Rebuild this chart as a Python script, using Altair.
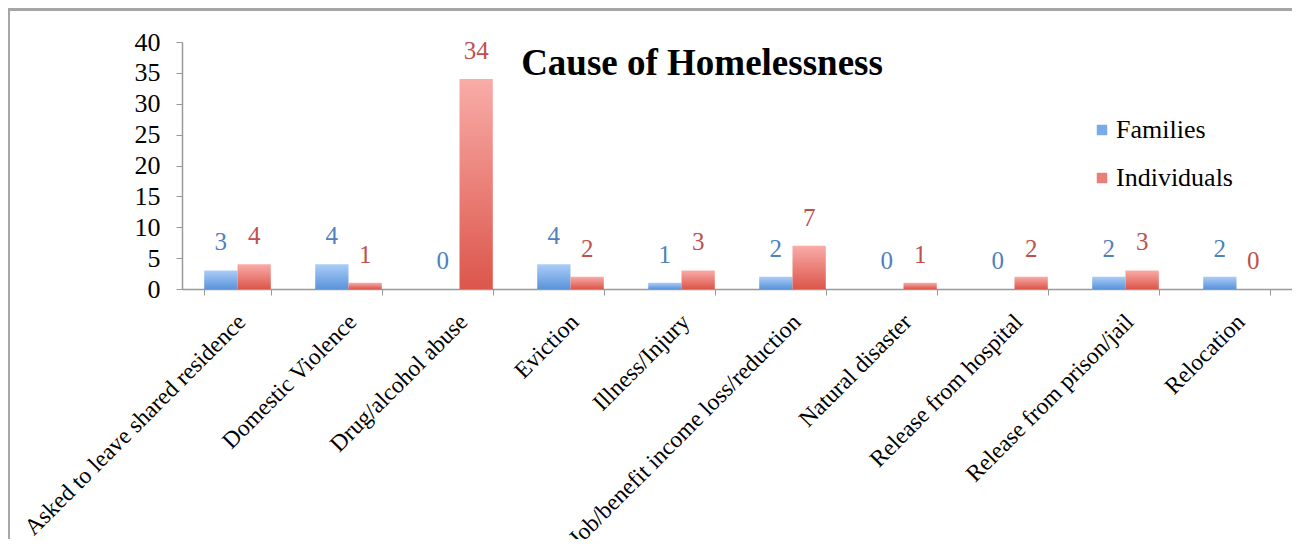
import altair as alt
import pandas as pd

categories = [
    "Asked to leave shared residence",
    "Domestic Violence",
    "Drug/alcohol abuse",
    "Eviction",
    "Illness/Injury",
    "Job/benefit income loss/reduction",
    "Natural disaster",
    "Release from hospital",
    "Release from prison/jail",
    "Relocation",
]
families = [3, 4, 0, 4, 1, 2, 0, 0, 2, 2]
individuals = [4, 1, 34, 2, 3, 7, 1, 2, 3, 0]
series = ["Families", "Individuals"]

rows = []
for c, f, i in zip(categories, families, individuals):
    rows.append({"category": c, "series": "Families", "value": f})
    rows.append({"category": c, "series": "Individuals", "value": i})
df = pd.DataFrame(rows)

FONT = "Liberation Serif"
W, H = 1110, 247

blue_grad = alt.Gradient(
    gradient="linear", x1=0, y1=0, x2=0, y2=1,
    stops=[alt.GradientStop(color="#abcdf8", offset=0),
           alt.GradientStop(color="#5a94da", offset=1)],
)
red_grad = alt.Gradient(
    gradient="linear", x1=0, y1=0, x2=0, y2=1,
    stops=[alt.GradientStop(color="#f9aca8", offset=0),
           alt.GradientStop(color="#dc564b", offset=1)],
)

x_enc = alt.X(
    "category:N", sort=categories, title=None,
    scale=alt.Scale(paddingInner=0.4, paddingOuter=0.2),
    axis=alt.Axis(
        labelAngle=-45, labelAlign="right", labelBaseline="middle",
        labelFont=FONT, labelFontSize=23.5, labelColor="black",
        labelPadding=23, labelOffset=4, tickBand="extent", tickSize=6,
        tickColor="#999999", domainColor="#999999", domainWidth=1.5,
        labelLimit=0, labelOverlap=False,
    ),
)
xo_enc = alt.XOffset("series:N", sort=series, scale=alt.Scale(paddingInner=0))
y_enc = alt.Y(
    "value:Q", title=None,
    scale=alt.Scale(domain=[0, 40]),
    axis=alt.Axis(
        values=[0, 5, 10, 15, 20, 25, 30, 35, 40], grid=False,
        labelFont=FONT, labelFontSize=26, labelColor="black",
        labelPadding=16, tickSize=6, tickColor="#999999",
        domainColor="#999999", domainWidth=1.5,
    ),
)

base = alt.Chart(df)

bars_f = base.transform_filter(alt.datum.series == "Families").mark_bar(
    color=blue_grad).encode(x=x_enc, xOffset=xo_enc, y=y_enc)
bars_i = base.transform_filter(alt.datum.series == "Individuals").mark_bar(
    color=red_grad).encode(x=x_enc, xOffset=xo_enc, y=y_enc)

lab_f = base.transform_filter(alt.datum.series == "Families").mark_text(
    font=FONT, fontSize=25, color="#4f81bd", baseline="bottom", dy=-15
).encode(x=x_enc, xOffset=xo_enc, y=y_enc, text="value:Q")
lab_i = base.transform_filter(alt.datum.series == "Individuals").mark_text(
    font=FONT, fontSize=25, color="#c0504d", baseline="bottom", dy=-15
).encode(x=x_enc, xOffset=xo_enc, y=y_enc, text="value:Q")

legend_layer = base.mark_square(opacity=0).encode(
    x=x_enc, xOffset=xo_enc, y=y_enc,
    color=alt.Color(
        "series:N", sort=series,
        scale=alt.Scale(domain=series, range=["#7aaae8", "#ea7f77"]),
        legend=alt.Legend(
            title=None, orient="none", legendX=907, legendY=75,
            symbolType="square", symbolSize=110, symbolOpacity=1,
            symbolStrokeWidth=0, labelFont=FONT, labelFontSize=26,
            labelColor="black", rowPadding=22, labelOffset=1,
        ),
    ),
)

frame_top = alt.Chart(df).mark_rule(color="#a6a6a6", strokeWidth=2).encode(
    x=alt.value(-173.5), x2=alt.value(W + 20), y=alt.value(-32.5))
frame_left = alt.Chart(df).mark_rule(color="#a6a6a6", strokeWidth=2).encode(
    x=alt.value(-173.5), y=alt.value(-32.5), y2=alt.value(H + 300))

chart = alt.layer(
    frame_top, frame_left, bars_f, bars_i, lab_f, lab_i, legend_layer
).properties(
    width=W, height=H,
    title=alt.TitleParams(
        "Cause of Homelessness", font=FONT, fontSize=37, fontWeight="bold",
        color="black", anchor="middle", dx=-35, dy=78,
    ),
    autosize=alt.AutoSizeParams(type="none"),
    padding={"left": 174, "top": 34, "right": 0, "bottom": 250},
).configure_view(stroke=None)

chart.save("out.html", embed_options={"renderer": "svg", "actions": False})
